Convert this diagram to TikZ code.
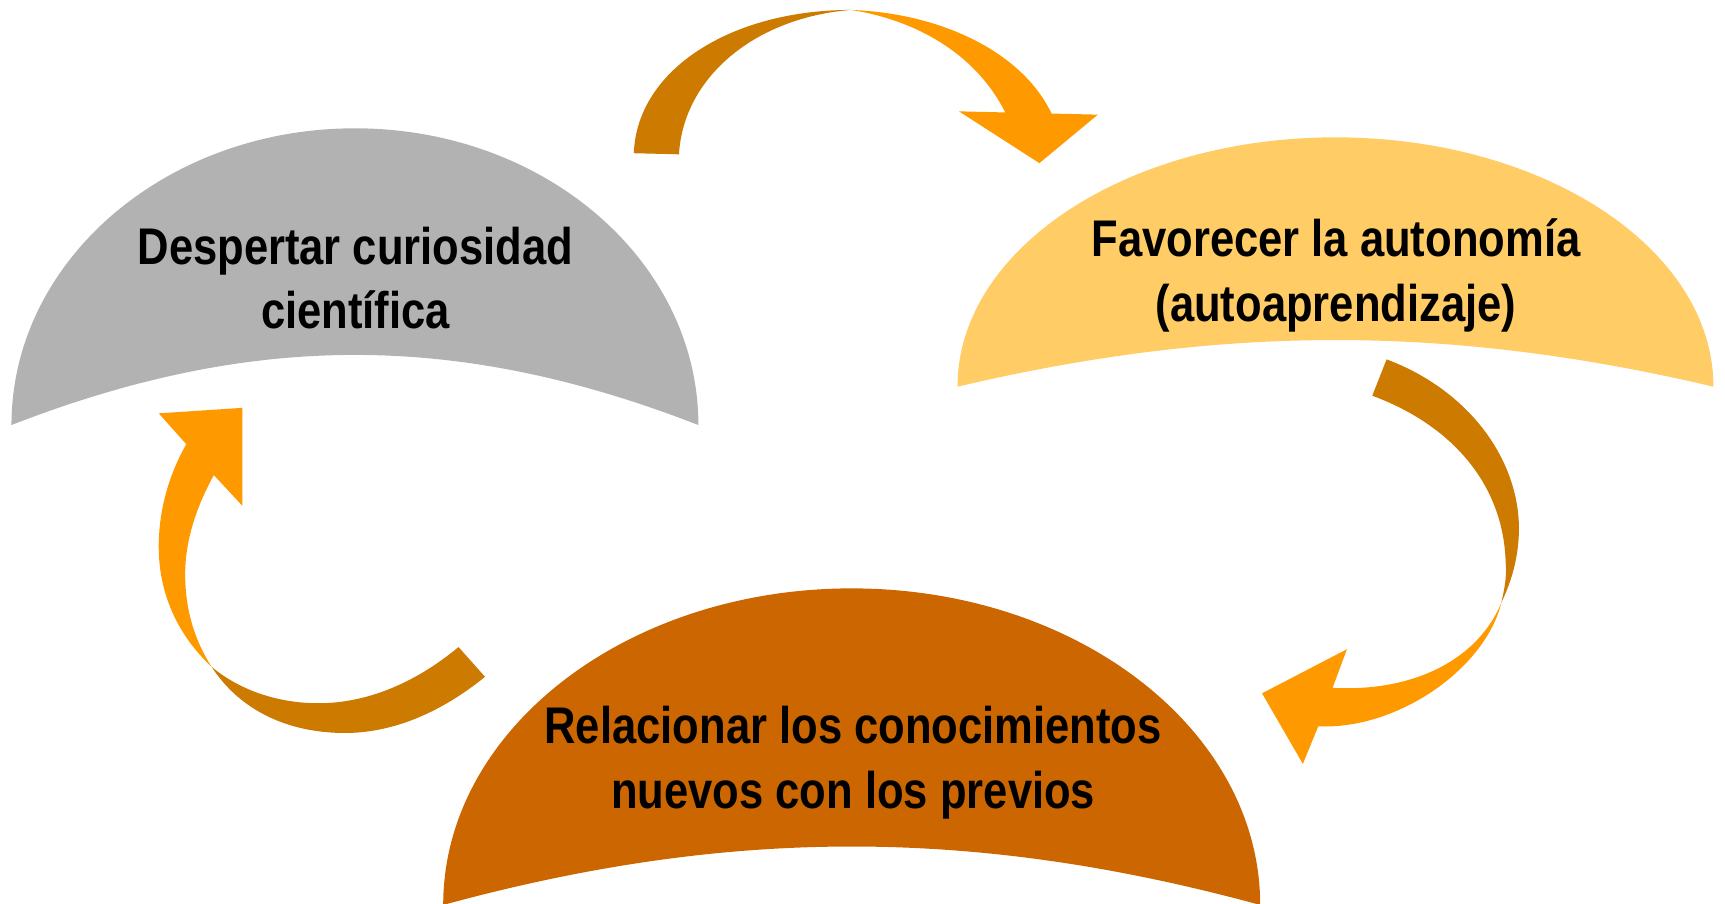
\documentclass[tikz,border=0pt]{standalone}
\usepackage{fontspec}
\newfontfamily\blobfont{Liberation Sans}[FakeStretch=0.845]
\definecolor{grayblob}{RGB}{178,178,178}
\definecolor{yellowblob}{RGB}{255,204,102}
\definecolor{brownblob}{RGB}{204,102,0}
\definecolor{arrowdark}{RGB}{204,122,0}
\definecolor{arrowlight}{RGB}{255,153,0}
\begin{document}
\begin{tikzpicture}[x=0.01cm,y=-0.01cm,
    blobtext/.style={align=center,inner sep=0pt,text=black,
      font=\blobfont\bfseries\fontsize{13.3pt}{16.6pt}\selectfont}] % cycle of three half ellipses
      \useasboundingbox (0,0) rectangle (1565,819.3);
      \clip (0,0) rectangle (1565,819.3);
      \foreach \cx/\yb/\rx/\ry/\bu/\col in {322/385.6/311.6/269.2/63.6/grayblob,
	1211.6/350.8/342.9/226.2/42.3/yellowblob, 772.7/821/370.6/287.2/53/brownblob} {
	\fill[\col] (\cx-\rx,\yb) arc[start angle=180,end angle=360,x radius=\rx,y radius=\ry]
	  .. controls (\cx+0.3*\rx,\yb-4/3*\bu) and (\cx-0.3*\rx,\yb-4/3*\bu) .. cycle;
      };
      \node[blobtext] (curiosidad) at (322.5,252) {Despertar curiosidad\\científica};
      \node[blobtext] (autonomia) at (1212,250) {Favorecer la autonomía\\(autoaprendizaje)};
      \node[blobtext] (conocimientos) at (774,692) {Relacionar los conocimientos\\nuevos con los previos};
      % arrow from curiosidad to autonomia
      \fill[arrowdark] (575,139) .. controls (578,62) and (665,9) .. (772,9)
	.. controls (685,16) and (620,70) .. (616,140) -- cycle;
      \fill[arrowlight] (772,9) .. controls (855,12) and (928,48) .. (954,103) -- (996,104)
	-- (943,148) -- (870,101) -- (912,102) .. controls (885,48) and (830,18) .. cycle;
      % arrow from autonomia to conocimientos
      \fill[arrowdark] (1258,326) .. controls (1335,355) and (1380,420) .. (1378,484)
	.. controls (1377,510) and (1370,530) .. (1362,547)
	.. controls (1366,530) and (1367,520) .. (1366,510)
	.. controls (1364,440) and (1318,386) .. (1245,359) -- cycle;
      \fill[arrowlight] (1362,547) .. controls (1348,605) and (1270,662) .. (1196,659) -- (1182,693)
	-- (1145,629) -- (1222,589) -- (1209,624) .. controls (1280,628) and (1340,600) .. cycle;
      % arrow from conocimientos to curiosidad
      \fill[arrowlight] (169,403) .. controls (152,433) and (144,465) .. (144,496)
	.. controls (144,537) and (160,575) .. (192,605)
	.. controls (176,580) and (168,552) .. (168,521)
	.. controls (168,492) and (177,462) .. (194,431) -- (220,459) -- (220,370) -- (144,375) -- cycle;
      \fill[arrowdark] (192,605) .. controls (218,645) and (262,665) .. (313,665)
	.. controls (358,665) and (402,645) .. (440,614) -- (416,587)
	.. controls (380,617) and (336,638) .. (289,638) .. controls (250,638) and (216,625) .. cycle;
    \end{tikzpicture}
\end{document}
